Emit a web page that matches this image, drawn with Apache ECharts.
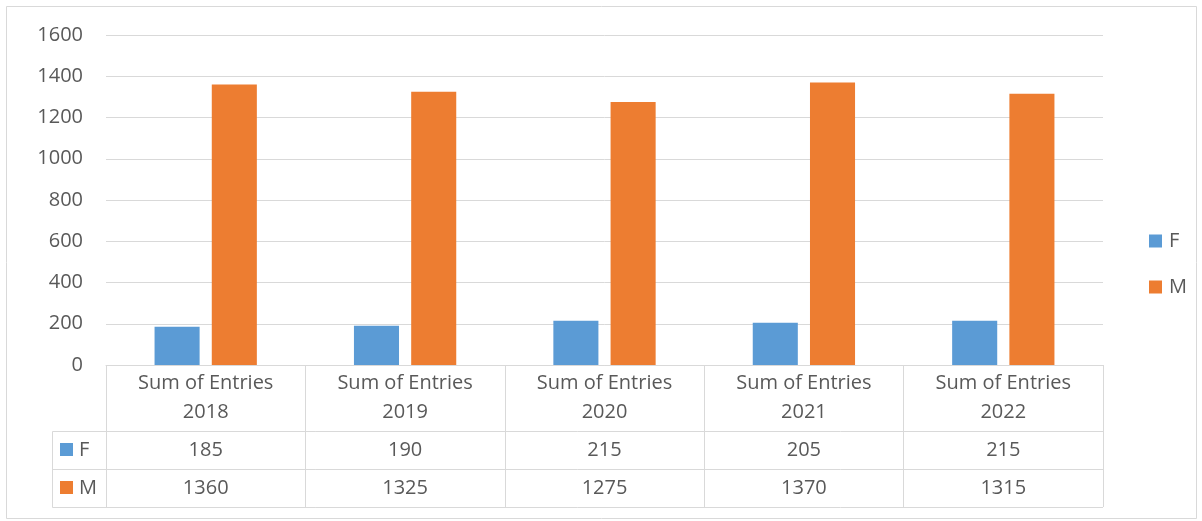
<!DOCTYPE html>
<html>
<head>
<meta charset="utf-8">
<script src="https://cdn.jsdelivr.net/npm/echarts@6/dist/echarts.min.js"></script>
<style>
html,body{margin:0;padding:0;background:#fff;}
#c{width:1202px;height:521px;}
</style>
</head>
<body>
<div id="c"></div>
<script>
const categories = ['Sum of Entries\n2018','Sum of Entries\n2019','Sum of Entries\n2020','Sum of Entries\n2021','Sum of Entries\n2022'];
const seriesNames = ['F','M'];
const valuesF = [185,190,215,205,215];
const valuesM = [1360,1325,1275,1370,1315];
const colors = ['#5B9BD5','#ED7D31'];
const FONT = '"Open Sans", sans-serif';
const TXT = '#595959';
const LINE = '#D9D9D9';

const chart = echarts.init(document.getElementById('c'), null, {renderer:'canvas'});
const option = {
  animation:false,
  backgroundColor:'#fff',
  textStyle:{fontFamily:FONT},
  grid:{left:106,right:99,top:35,bottom:156,containLabel:false},
  legend:{
    orient:'vertical', left:1144, top:226,
    itemWidth:13, itemHeight:13, itemGap:26, icon:'rect',
    textStyle:{color:TXT,fontSize:20,fontFamily:FONT,lineHeight:20,padding:[0,0,0,2]},
    data:seriesNames
  },
  xAxis:{
    type:'category', data:categories,
    axisLine:{show:true,lineStyle:{color:LINE,width:1}},
    axisTick:{show:true,length:142,interval:0,lineStyle:{color:LINE,width:1}},
    axisLabel:{color:TXT,fontSize:20,fontFamily:FONT,lineHeight:29,margin:4,interval:0}
  },
  yAxis:{
    type:'value', min:0, max:1600, interval:200,
    axisLine:{show:false}, axisTick:{show:false},
    axisLabel:{color:TXT,fontSize:20,fontFamily:FONT,margin:23,formatter:v=>String(v)},
    splitLine:{lineStyle:{color:LINE,width:1}}
  },
  series:[
    {name:seriesNames[0],type:'bar',data:valuesF,barWidth:'22.6%',barGap:'27%',itemStyle:{color:colors[0]}},
    {name:seriesNames[1],type:'bar',data:valuesM,barWidth:'22.6%',barGap:'27%',itemStyle:{color:colors[1]}}
  ]
};
chart.setOption(option);

// Data table below the axis
const graphics = [];
graphics.push({type:'rect',shape:{x:6.5,y:6.5,width:1190,height:512},style:{fill:null,stroke:LINE,lineWidth:1},silent:true});
const left = 52.5, right = 1103, rowY = [431.5, 469.5, 507.5];
rowY.forEach(y=>graphics.push({type:'line',shape:{x1:left,y1:y,x2:right,y2:y},style:{stroke:LINE,lineWidth:1}}));
graphics.push({type:'line',shape:{x1:left,y1:431.5,x2:left,y2:507.5},style:{stroke:LINE,lineWidth:1}});
const rowsData = [valuesF, valuesM];
const rowCenters = [450, 488];
rowsData.forEach((vals,r)=>{
  graphics.push({type:'rect',shape:{x:60,y:rowCenters[r]-7,width:13,height:13},style:{fill:colors[r]}});
  graphics.push({type:'text',style:{x:79,y:rowCenters[r],text:seriesNames[r],fill:TXT,font:'20px '+FONT,textVerticalAlign:'middle',verticalAlign:'middle'}});
  vals.forEach((v,i)=>{
    const px = chart.convertToPixel({xAxisIndex:0}, i);
    graphics.push({type:'text',style:{x:px,y:rowCenters[r],text:String(v),fill:TXT,font:'20px '+FONT,align:'center',textAlign:'center',verticalAlign:'middle',textVerticalAlign:'middle'}});
  });
});
chart.setOption({graphic:graphics});
</script>
</body>
</html>
